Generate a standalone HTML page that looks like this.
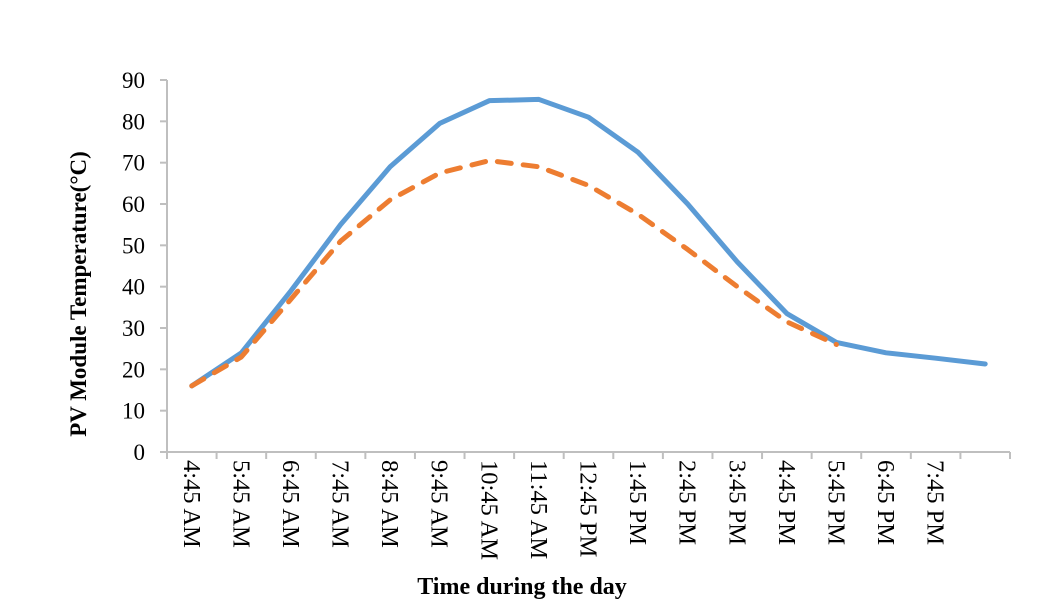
<!DOCTYPE html>
<html><head><meta charset="utf-8"><style>
body{margin:0;background:#fff;}
svg text{font-family:"Liberation Serif",serif;fill:#000;}
</style></head><body>
<svg id="c" width="1050" height="610"></svg>
<script>
const categories=["4:45 AM","5:45 AM","6:45 AM","7:45 AM","8:45 AM","9:45 AM","10:45 AM","11:45 AM","12:45 PM","1:45 PM","2:45 PM","3:45 PM","4:45 PM","5:45 PM","6:45 PM","7:45 PM",""];
const seriesBlue=[16,24,39,55,69,79.5,85,85.3,81,72.5,60,46,33.5,26.5,24,22.7,21.3];
const seriesOrange=[16,23,37,51,61,67.5,70.5,69,64.5,57.5,49,40,31.5,26];
const yTicks=[0,10,20,30,40,50,60,70,80,90];
const NS="http://www.w3.org/2000/svg";
const svg=document.getElementById('c');
const x0=167,x1=1010,y0=452,yTop=80,n=categories.length,step=(x1-x0)/n;
const xs=i=>x0+step*(i+0.5);
const ys=v=>y0-(v/90)*(y0-yTop);
function mk(t,a){const e=document.createElementNS(NS,t);for(const k in a)e.setAttribute(k,a[k]);svg.appendChild(e);return e;}
let e=mk('line',{x1:x0,y1:yTop,x2:x0,y2:y0,stroke:'#bfbfbf','stroke-width':2});

e=mk('line',{x1:x0-7,y1:y0,x2:x1,y2:y0,stroke:'#bfbfbf','stroke-width':2});

yTicks.forEach(v=>{
 let t=mk('line',{x1:x0-7,y1:ys(v),x2:x0,y2:ys(v),stroke:'#bfbfbf','stroke-width':2});
 
 let l=mk('text',{x:x0-22,y:ys(v)+8,'text-anchor':'end','font-size':23});
 l.textContent=v;
 
});
for(let i=0;i<=n;i++){
 let t=mk('line',{x1:x0+step*i,y1:y0,x2:x0+step*i,y2:y0+7,stroke:'#bfbfbf','stroke-width':2});
 
}
categories.forEach((c,i)=>{
 if(!c)return;
 let l=mk('text',{transform:`translate(${xs(i)-8},460) rotate(90)`,'font-size':24.5});
 l.textContent=c;
 
});
function line(arr,color,dash,name){
 const p=mk('polyline',{points:arr.map((v,i)=>xs(i)+','+ys(v)).join(' '),fill:'none',stroke:color,'stroke-width':5,'stroke-linejoin':'round','stroke-linecap':'round'});
 if(dash)p.setAttribute('stroke-dasharray',dash);
 
}
line(seriesBlue,'#5b9bd5',null,'series-blue');
line(seriesOrange,'#ed7d31','14 12','series-orange');
let yt=mk('text',{transform:'translate(86,294) rotate(-90)','text-anchor':'middle','font-size':23,'font-weight':'bold'});
yt.textContent='PV Module Temperature(\u00B0C)';

let xt=mk('text',{x:522,y:594,'text-anchor':'middle','font-size':24,'font-weight':'bold'});
xt.textContent='Time during the day';

</script>
</body></html>
